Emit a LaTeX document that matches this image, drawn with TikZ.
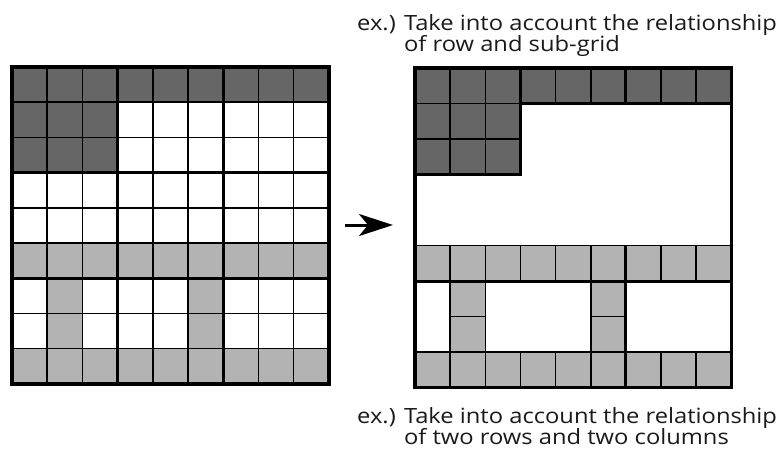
\documentclass[tikz,border=0pt]{standalone}
\usepackage{fontspec}
\setmainfont{Open Sans}[FakeStretch=1.13]
\usetikzlibrary{arrows.meta}
\definecolor{darkcell}{HTML}{666666}
\definecolor{lightcell}{HTML}{B3B3B3}
\definecolor{inktext}{HTML}{1A1A1A}
\tikzset{
  cellline/.style={line width=1.5pt},
  midline/.style={line width=2.2pt},
  boxline/.style={line width=3pt},
  frameline/.style={line width=3.6pt},
  caption/.style={anchor=base west, inner sep=0pt, text=inktext,
    font=\fontsize{21}{24}\selectfont},
}
% fill one cell: colour, column, row (rows counted downwards)
\newcommand\cellfill[3]{\fill[#1] (#2*\cw,#3*\ch) rectangle ++(\cw,\ch);}
\newcommand\cellbox[3]{\filldraw[fill=#1,cellline] (#2*\cw,#3*\ch) rectangle ++(\cw,\ch);}

\begin{document}
\begin{tikzpicture}[x=1pt,y=-1pt]
\useasboundingbox (0,0) rectangle (779,450);
\fill[white] (0,0) rectangle (779,450);

% full 9x9 grid
\begin{scope}[shift={(12,67)}]
  \def\cw{35.2}\def\ch{35.2}
  \foreach \c in {0,...,8} {
    \cellfill{darkcell}{\c}{0}
    \cellfill{lightcell}{\c}{5}
    \cellfill{lightcell}{\c}{8}
  }
  \foreach \c in {0,1,2} \foreach \r in {1,2} {\cellfill{darkcell}{\c}{\r}}
  \foreach \c in {1,5} \foreach \r in {6,7} {\cellfill{lightcell}{\c}{\r}}
  \foreach \i in {1,...,8} {
    \draw[cellline] (\i*\cw,0) -- (\i*\cw,9*\ch);
    \draw[cellline] (0,\i*\ch) -- (9*\cw,\i*\ch);
  }
  \foreach \i in {3,6} {
    \draw[boxline] (\i*\cw,0) -- (\i*\cw,9*\ch);
    \draw[boxline] (0,\i*\ch) -- (9*\cw,\i*\ch);
  }
  \draw[frameline] (0,0) rectangle (9*\cw,9*\ch);
\end{scope}

% only the related cells
\begin{scope}[shift={(415,68)}]
  \def\cw{35.15}\def\ch{35.5}
  \foreach \c in {0,...,8} {
    \cellbox{darkcell}{\c}{0}
    \cellbox{lightcell}{\c}{5}
    \cellbox{lightcell}{\c}{8}
  }
  \foreach \c in {0,1,2} \foreach \r in {1,2} {\cellbox{darkcell}{\c}{\r}}
  \foreach \c in {1,5} \foreach \r in {6,7} {\cellbox{lightcell}{\c}{\r}}
  % sub-grid boundaries
  \draw[boxline] (3*\cw,0) -- (3*\cw,\ch);
  \draw[boxline] (6*\cw,0) -- (6*\cw,\ch);
  \draw[midline] (3*\cw,\ch) -- (9*\cw,\ch);
  \draw[midline] (0,3*\ch) -- (3*\cw,3*\ch) -- (3*\cw,\ch);
  \draw[boxline] (0,6*\ch) -- (9*\cw,6*\ch);
  \draw[boxline] (6*\cw,5*\ch) -- (6*\cw,9*\ch);
  \draw[frameline] (0,0) rectangle (9*\cw,9*\ch);
\end{scope}

% arrow between the grids
\coordinate (tail) at (345,225);
\coordinate (tip) at (393,225);
\draw[line width=3pt, -{Stealth[length=34pt,width=22pt,inset=9pt]}] (tail) -- (tip);

% captions
\node[caption] (topA) at (357,30) {ex.) Take into account the relationship};
\node[caption] (topB) at (357,51.5) {\phantom{ex.) }of row and sub-grid};
\node[caption] (botA) at (357,423) {ex.) Take into account the relationship};
\node[caption] (botB) at (357,444) {\phantom{ex.) }of two rows and two columns};
\end{tikzpicture}
\end{document}
